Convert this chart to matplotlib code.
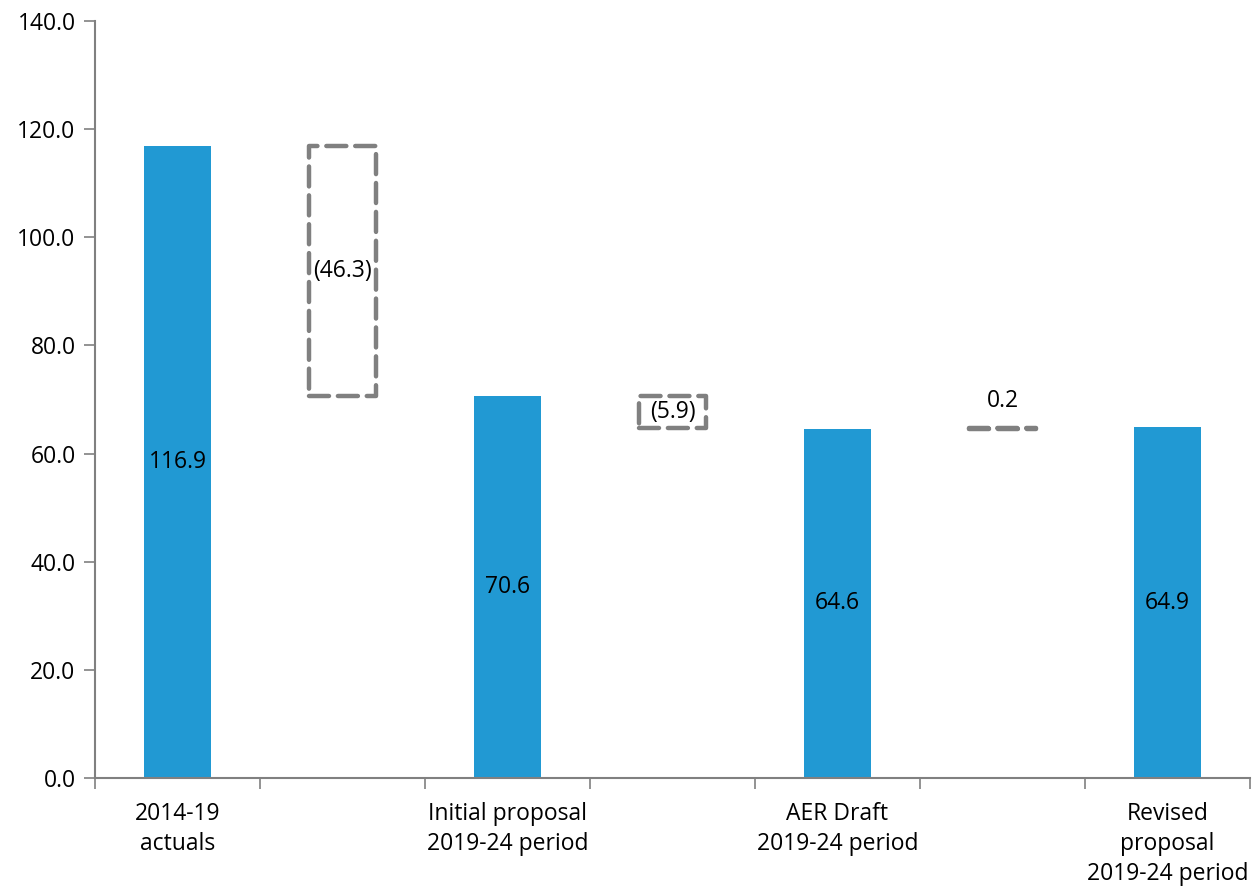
import numpy as np
import matplotlib
matplotlib.use('Agg')
import matplotlib.pyplot as plt
from matplotlib.ticker import FormatStrFormatter

plt.rcParams['font.family'] = ['Open Sans', 'DejaVu Sans']

# waterfall data
categories = ['2014-19\nactuals', 'Initial proposal\n2019-24 period',
              'AER Draft\n2019-24 period', 'Revised\nproposal\n2019-24 period']
totals = [116.9, 70.6, 64.6, 64.9]
deltas = [-46.3, -5.9, 0.2]
delta_labels = ['(46.3)', '(5.9)', '0.2']

BAR_COLOR = '#2199d3'
BOX_COLOR = '#808080'
WIDTH = 0.41
FS = 16.5

fig = plt.figure(figsize=(12.57, 8.91), dpi=100)
ax = fig.add_axes([0.0756, 0.1268, 0.9188, 0.8496])

total_x = np.arange(len(totals)) * 2
delta_x = total_x[:-1] + 1

ax.bar(total_x, totals, width=WIDTH, color=BAR_COLOR, zorder=2)
for x, v in zip(total_x, totals):
    ax.text(x, v / 2, '%.1f' % v, ha='center', va='center', fontsize=FS)

for i, (x, d) in enumerate(zip(delta_x, deltas)):
    start = totals[i]
    bottom = min(start, start + d)
    height = abs(d)
    ax.bar(x, height, bottom=bottom, width=WIDTH, fill=False,
           edgecolor=BOX_COLOR, linewidth=3.2, linestyle=(0, (4.5, 2)),
           capstyle='round', joinstyle='round', zorder=3)
    if height < 1:
        ax.text(x, bottom + height + 5, delta_labels[i], ha='center',
                va='center', fontsize=FS)
    else:
        ax.text(x, bottom + height / 2, delta_labels[i], ha='center',
                va='center', fontsize=FS)

ax.set_xlim(-0.5, 6.5)
ax.set_ylim(0, 140)
ax.set_yticks(np.arange(0, 141, 20))
ax.yaxis.set_major_formatter(FormatStrFormatter('%.1f'))

ax.set_xticks(np.arange(-0.5, 7, 1))
ax.set_xticklabels([])
ax.set_xticks(total_x, minor=True)
ax.set_xticklabels(categories, minor=True, fontsize=FS, linespacing=1.35)
ax.tick_params(axis='x', which='minor', length=0, pad=17)
ax.tick_params(axis='x', which='major', length=8, width=1.2, color=BOX_COLOR)
ax.tick_params(axis='y', length=8, width=1.2, color=BOX_COLOR, labelsize=FS, pad=6)

for side in ['top', 'right']:
    ax.spines[side].set_visible(False)
for side in ['left', 'bottom']:
    ax.spines[side].set_color(BOX_COLOR)
    ax.spines[side].set_linewidth(1.5)

fig.savefig('out.png', dpi=100)
